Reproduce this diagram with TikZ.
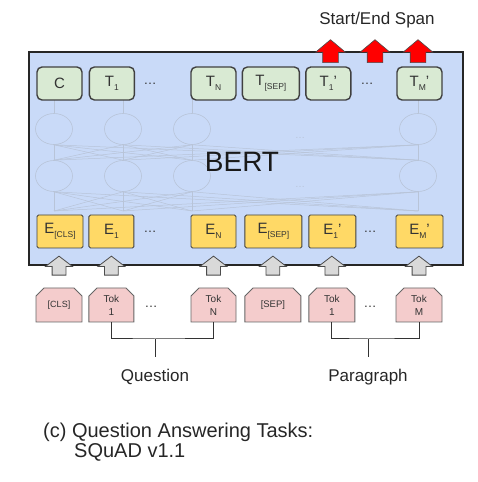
\documentclass[tikz,border=0pt]{standalone}
\usepackage{fontspec}
\setmainfont{Liberation Sans}
\usetikzlibrary{positioning,shapes.misc,shapes.arrows,shapes.geometric}
\definecolor{BertBlue}{HTML}{C9DAF8}
\definecolor{TGreen}{HTML}{D9EAD3}
\definecolor{EYellow}{HTML}{FFD966}
\definecolor{TokPink}{HTML}{F4CCCC}
\definecolor{ArrowGrey}{HTML}{D9D9D9}
\definecolor{SpanRed}{HTML}{FF0000}
\definecolor{Ink}{HTML}{333333}
\definecolor{Edge}{HTML}{404040}
\definecolor{Faint}{HTML}{B8C4D8}
\newcommand{\tsub}[1]{\raisebox{-0.5ex}{\fontsize{8.5}{8.5}\selectfont #1}}

\begin{document}
\begin{tikzpicture}[x=1pt,y=1pt,
  bert/.style={draw=black!85, line width=2pt, fill=BertBlue},
  tbox/.style={
    draw=Edge, line width=1.4pt, fill=TGreen, rounded corners=5pt,
    minimum height=33pt, minimum width=45pt, inner sep=0pt,
    font=\fontsize{15}{15}\selectfont, text=Ink
  },
  ebox/.style={
    draw=Edge, line width=0.9pt, fill=EYellow, rounded corners=1.5pt,
    minimum height=33pt, minimum width=45pt, inner sep=0pt,
    font=\fontsize{15}{15}\selectfont, text=Ink
  },
  tokbox/.style={
    chamfered rectangle, chamfered rectangle corners={north west,north east},
    chamfered rectangle xsep=4pt, chamfered rectangle ysep=4pt,
    draw=black!60, line width=0.9pt, fill=TokPink,
    minimum height=34pt, minimum width=46pt, inner sep=0pt,
    align=center, font=\fontsize{10}{13}\selectfont, text=Ink
  },
  hid/.style={ellipse, draw=Faint, line width=0.6pt, minimum width=37pt, minimum height=31pt, inner sep=0pt},
  faint/.style={draw=Faint, line width=0.5pt},
  dots/.style={font=\fontsize{13}{13}\selectfont, text=Ink},
  inarr/.style={
    single arrow, rotate=90, anchor=tail, draw=black!70, fill=ArrowGrey, line width=0.8pt,
    inner sep=0pt, text height=13pt, text depth=0pt, minimum height=19pt,
    single arrow head extend=6.5pt, single arrow tip angle=105
  },
  outarr/.style={
    single arrow, rotate=90, anchor=tail, draw=black!70, fill=SpanRed, line width=0.6pt,
    inner sep=0pt, text height=15pt, text depth=0pt, minimum height=23pt,
    single arrow head extend=7pt, single arrow tip angle=100
  },
  lbl/.style={font=\fontsize{17}{17}\selectfont, text=black!85},
  brace/.style={draw=black!80, line width=1pt}
]
\useasboundingbox (0,0) rectangle (478,482);

% BERT block and the faded network inside it
\draw[bert] (29,217) rectangle (463,430);
\foreach \n/\x in {a/54,b/123,c/192,d/418} {
  \node[hid] (u\n) at (\x,353) {};
  \node[hid] (l\n) at (\x,306) {};
  \coordinate (b\n) at (\x,271);
  \draw[faint] (\x,382) -- (u\n.north);
}
\foreach \i in {a,b,c,d} \foreach \j in {a,b,c,d} {
  \draw[faint] (l\i.north) -- (u\j.south);
  \draw[faint] (b\i) -- (l\j.south);
}
\node[text=Faint, font=\fontsize{10}{10}\selectfont] (hdots1) at (300,344) {\dots};
\node[text=Faint, font=\fontsize{10}{10}\selectfont] (hdots2) at (300,295) {\dots};
\node[font=\fontsize{28}{28}\selectfont, text=black!90, anchor=base] (bertlbl) at (242,310) {BERT};

% output row
\node[tbox] (tC) at (59.5,398.5) {C};
\node[tbox, right=6pt of tC] (t1) {T\tsub{1}};
\node[dots] (tdots1) at (150,398) {\dots};
\node[tbox] (tN) at (213.5,398.5) {T\tsub{N}};
\node[tbox, right=5pt of tN, minimum width=57pt] (tsep) {T\tsub{[SEP]}};
\node[tbox, right=5pt of tsep] (tp1) {T\tsub{1}'};
\node[dots] (tdots2) at (367,398) {\dots};
\node[tbox] (tpM) at (419.5,398.5) {T\tsub{M}'};

% embedding row
\node[ebox, minimum width=46pt] (ecls) at (60,250.5) {E\tsub{[CLS]}};
\node[ebox, right=5pt of ecls] (e1) {E\tsub{1}};
\node[dots] (edots1) at (150,250) {\dots};
\node[ebox] (eN) at (213.5,250.5) {E\tsub{N}};
\node[ebox, right=8pt of eN, minimum width=57pt] (esep) {E\tsub{[SEP]}};
\node[ebox, right=6pt of esep, minimum width=47pt] (ep1) {E\tsub{1}'};
\node[dots] (edots2) at (370,250) {\dots};
\node[ebox, minimum width=47pt] (epM) at (419.5,250.5) {E\tsub{M}'};

% input tokens
\node[tokbox, font=\fontsize{9}{9}\selectfont] (cls) at (59,177) {[CLS]};
\node[tokbox, right=6pt of cls, minimum width=45pt] (tok1) {Tok\\1};
\node[dots] (kdots1) at (151,175) {\dots};
\node[tokbox, minimum width=45pt] (tokN) at (213.5,177) {Tok\\N};
\node[tokbox, right=8pt of tokN, minimum width=56pt, font=\fontsize{9.5}{9.5}\selectfont] (sep) {[SEP]};
\node[tokbox, right=7pt of sep] (tokp1) {Tok\\1};
\node[dots] (kdots2) at (370,175) {\dots};
\node[tokbox] (tokM) at (419,177) {Tok\\M};

% grey input arrows
\node[inarr] (in1) at ([yshift=12pt]cls.north) {};
\node[inarr] (in2) at ([yshift=12pt]tok1.north) {};
\node[inarr] (in3) at ([yshift=12pt]tokN.north) {};
\node[inarr] (in4) at ([yshift=12pt]sep.north) {};
\node[inarr] (in5) at ([yshift=12pt]tokp1.north) {};
\node[inarr] (in6) at ([yshift=12pt]tokM.north) {};

% red span arrows
\node[outarr] (out1) at (330.5,419) {};
\node[outarr] (out2) at (375,419) {};
\node[outarr] (out3) at (418,419) {};
\node[lbl, anchor=base] (span) at (377,457) {Start/End Span};

% segment brackets
\coordinate (qmid) at (155,143);
\coordinate (qend) at (155,125);
\draw[brace] (tok1.south) |- (qmid) -| (tokN.south);
\draw[brace] (qmid) -- (qend);
\node[lbl, anchor=base] (question) at (155,100) {Question};

\coordinate (pmid) at (368,143);
\coordinate (pend) at (368,125);
\draw[brace] (tokp1.south) |- (pmid) -| (tokM.south);
\draw[brace] (pmid) -- (pend);
\node[lbl, anchor=base] (paragraph) at (368,100) {Paragraph};

% caption
\node[font=\fontsize{20}{20}\selectfont, text=black!85, anchor=base west, inner sep=0pt] (cap1) at (43,44) {(c) Question Answering Tasks:};
\node[font=\fontsize{20}{20}\selectfont, text=black!85, anchor=base west, inner sep=0pt] (cap2) at (74,24) {SQuAD v1.1};
\end{tikzpicture}
\end{document}
